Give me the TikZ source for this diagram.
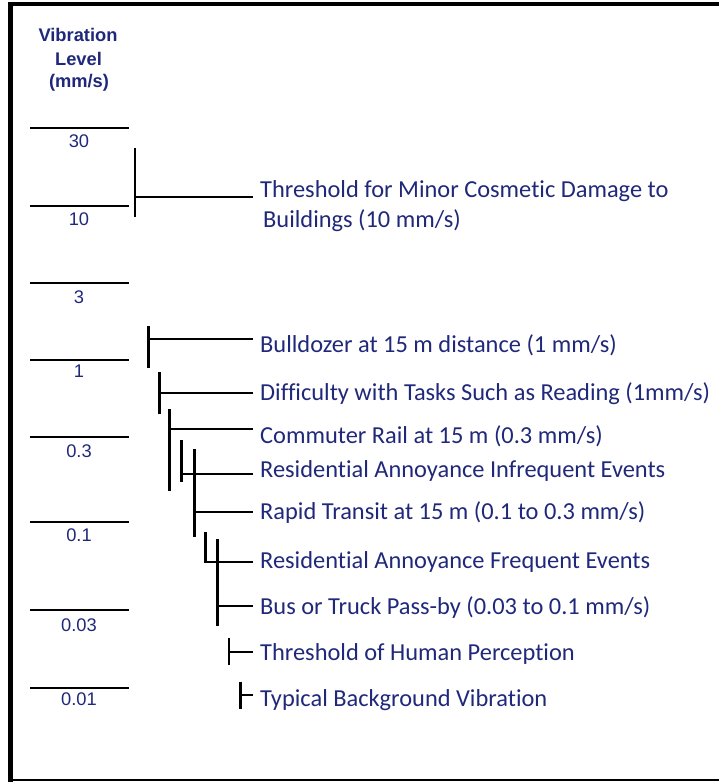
\documentclass[tikz,border=0pt]{standalone}
\usepackage{fontspec}
\setmainfont{Carlito}[Ligatures=NoCommon]
\newfontfamily\arialfont{Liberation Sans}
\definecolor{txtblue}{RGB}{32,40,122}
\begin{document}
\begin{tikzpicture}[x=1pt,y=-1pt,
  lbl/.style={anchor=base west, inner xsep=7pt, inner ysep=0pt, text=txtblue, font=\fontsize{24.4}{30}\selectfont},
  ticklbl/.style={anchor=base, inner sep=0pt, text=txtblue, font=\arialfont\fontsize{18.3}{20}\selectfont},
  hdr/.style={anchor=base, inner sep=0pt, text=txtblue, font=\arialfont\bfseries\fontsize{18.3}{21}\selectfont},
  tickline/.style={line width=2.3pt},
  brk/.style={line width=2.6pt}]
\useasboundingbox (0,0) rectangle (719,782);
% frame
\fill (8.3,1.8) rectangle (719,6);
\fill (8.3,1.8) rectangle (13.3,782);
\fill (8.3,779.3) rectangle (719,781.3);
% header
\node[hdr] (h1) at (78,41.7) {Vibration};
\node[hdr] (h2) at (78.5,65.7) {Level};
\node[hdr] (h3) at (79,87) {(mm/s)};
% scale ticks
\foreach \y in {128,206,283,360,437,522,610,688} \draw[tickline] (30,\y) -- (129,\y);
\node[ticklbl] (t30) at (79,147) {30};
\node[ticklbl] (t10) at (79,225) {10};
\node[ticklbl] (t3) at (79,303) {3};
\node[ticklbl] (t1) at (79,377) {1};
\node[ticklbl] (t03) at (79,457) {0.3};
\node[ticklbl] (t01) at (79,541) {0.1};
\node[ticklbl] (t003) at (79,631) {0.03};
\node[ticklbl] (t001) at (79,705) {0.01};
% labels
\node[lbl] (thrA) at (253,197) {Threshold for Minor Cosmetic Damage to};
\node[lbl] (thrB) at (256,227) {Buildings (10 mm/s)};
\node[lbl] (bull) at (253,352) {Bulldozer at 15 m distance (1 mm/s)};
\node[lbl] (diff) at (253,400) {Difficulty with Tasks Such as Reading (1mm/s)};
\node[lbl] (comm) at (253,443) {Commuter Rail at 15 m (0.3 mm/s)};
\node[lbl] (resi) at (253,477) {Residential Annoyance Infrequent Events};
\node[lbl] (rapid) at (253,519) {Rapid Transit at 15 m (0.1 to 0.3 mm/s)};
\node[lbl] (resf) at (253,568) {Residential Annoyance Frequent Events};
\node[lbl] (bus) at (253,614) {Bus or Truck Pass-by (0.03 to 0.1 mm/s)};
\node[lbl] (perc) at (253,660) {Threshold of Human Perception};
\node[lbl] (bg) at (253,706) {Typical Background Vibration};
% bracket coordinates
\coordinate (a1) at (135,148);   \coordinate (b1) at (135,217);   \coordinate (m1) at (135,197);
\coordinate (a2) at (148.3,326); \coordinate (b2) at (148.3,368); \coordinate (m2) at (148.3,339);
\coordinate (a3) at (159.3,372); \coordinate (b3) at (159.3,414); \coordinate (m3) at (159.3,393);
\coordinate (a4) at (169.7,409); \coordinate (b4) at (169.7,491); \coordinate (m4) at (169.7,429);
\coordinate (a5) at (181.3,440); \coordinate (b5) at (181.3,482); \coordinate (m5) at (181.3,474);
\coordinate (a6) at (194.3,449); \coordinate (b6) at (194.3,537); \coordinate (m6) at (194.3,512);
\coordinate (a7) at (205.7,532); \coordinate (m7) at (205.7,562);
\coordinate (a8) at (217.7,539); \coordinate (b8) at (217.7,626); \coordinate (m8) at (217.7,606);
\coordinate (a9) at (229,638);   \coordinate (b9) at (229,665);   \coordinate (m9) at (229,652);
\coordinate (a10) at (240.7,682); \coordinate (b10) at (240.7,709); \coordinate (m10) at (240.7,695);
% brackets
\draw[brk] (a1) -- (b1);   \draw[brk] (m1) -- (m1 -| thrA.west);
\draw[brk] (a2) -- (b2);   \draw[brk] (m2) -- (m2 -| bull.west);
\draw[brk] (a3) -- (b3);   \draw[brk] (m3) -- (m3 -| diff.west);
\draw[brk] (a4) -- (b4);   \draw[brk] (m4) -- (m4 -| comm.west);
\draw[brk] (a5) -- (b5);   \draw[brk] (m5) -- (m5 -| resi.west);
\draw[brk] (a6) -- (b6);   \draw[brk] (m6) -- (m6 -| rapid.west);
\draw[brk] (a7) -- ([yshift=-1.3pt]m7); \draw[brk] (m7) -- (m7 -| resf.west);
\draw[brk] (a8) -- (b8);   \draw[brk] (m8) -- (m8 -| bus.west);
\draw[brk] (a9) -- (b9);   \draw[brk] (m9) -- (m9 -| perc.west);
\draw[brk] (a10) -- (b10); \draw[brk] (m10) -- (m10 -| bg.west);
\end{tikzpicture}
\end{document}
